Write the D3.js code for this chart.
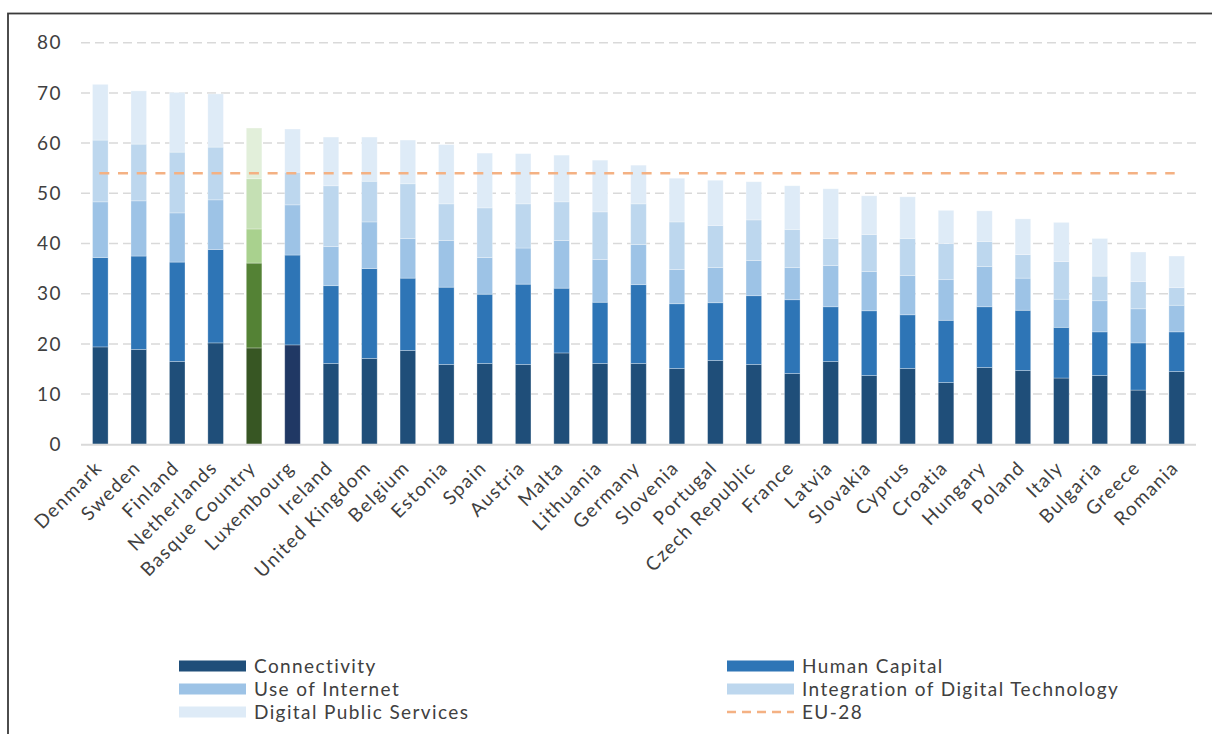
<!DOCTYPE html>
<html><head><meta charset="utf-8">
<script src="https://cdn.jsdelivr.net/npm/d3@7"></script>
<style>
body{margin:0;background:#fff;}
svg{display:block;font-family:Lato,"Open Sans",sans-serif;}
</style></head>
<body><svg id="chart" width="1212" height="734"></svg>
<script>
const countries = ["Denmark","Sweden","Finland","Netherlands","Basque Country","Luxembourg","Ireland","United Kingdom","Belgium","Estonia","Spain","Austria","Malta","Lithuania","Germany","Slovenia","Portugal","Czech Republic","France","Latvia","Slovakia","Cyprus","Croatia","Hungary","Poland","Italy","Bulgaria","Greece","Romania"];
const connectivity = [19.4,18.9,16.5,20.2,19.2,19.8,16.1,17.1,18.7,15.9,16.1,15.9,18.2,16.1,16.1,15.1,16.7,15.9,14.1,16.5,13.7,15.1,12.3,15.3,14.7,13.2,13.7,10.8,14.5];
const humanCapital = [17.8,18.6,19.8,18.6,16.9,17.9,15.5,17.9,14.4,15.4,13.8,16.0,12.9,12.2,15.7,12.9,11.5,13.7,14.7,10.9,12.9,10.7,12.4,12.1,12.0,10.1,8.7,9.4,7.9];
const useOfInternet = [11.1,11.0,9.8,9.9,6.8,10.0,7.8,9.3,7.9,9.3,7.3,7.2,9.5,8.5,8.0,6.8,7.0,7.0,6.4,8.2,7.8,7.8,8.1,8.0,6.4,5.6,6.2,6.8,5.3];
const integrationDigital = [12.3,11.3,12.1,10.5,10.0,6.5,12.1,8.1,10.9,7.3,9.9,8.8,7.7,9.5,8.1,9.5,8.4,8.1,7.6,5.4,7.4,7.4,7.2,5.0,4.7,7.5,4.9,5.4,3.5];
const digitalPublic = [11.1,10.6,11.9,10.6,10.1,8.6,9.7,8.8,8.7,11.8,10.9,10.0,9.3,10.3,7.7,8.7,9.0,7.6,8.7,9.9,7.7,8.3,6.6,6.1,7.1,7.8,7.5,5.9,6.3];
const eu28 = 54;
const seriesNames = ["Connectivity","Human Capital","Use of Internet","Integration of Digital Technology","Digital Public Services"];
const yTicks = [0,10,20,30,40,50,60,70,80];

const blueColors = ["#1f4e79","#2e75b6","#9dc3e6","#bdd7ee","#deebf7"];
const greenColors = ["#375623","#548235","#a9d18e","#c5e0b4","#e2efda"];
const luxConnectivity = "#203864";
const euColor = "#f4b183";
const textColor = "#404040";

const svg = d3.select("#chart");
// frame
svg.append("rect").attr("x",8).attr("y",13.5).attr("width",1215).attr("height",740)
  .attr("fill","none").attr("stroke","#3a3a3a").attr("stroke-width",1.8);

const x = d3.scaleBand().domain(countries).range([81,1196]).paddingInner(0.595).paddingOuter(0.3);
const y = d3.scaleLinear().domain([0,80]).range([444.3,42.7]);

// gridlines
svg.append("g").selectAll("line").data(yTicks.filter(d=>d>0)).join("line")
  .attr("x1",81).attr("x2",1196).attr("y1",d=>y(d)).attr("y2",d=>y(d))
  .attr("stroke","#d9d9d9").attr("stroke-width",1.5).attr("stroke-dasharray","9,5");

// y labels
svg.append("g").selectAll("text").data(yTicks).join("text")
  .attr("x",62).attr("y",d=>y(d)).attr("dy","0.35em").attr("text-anchor","end")
  .attr("fill",textColor).attr("font-size",19).attr("letter-spacing",1.5).text(d=>d);

const table = countries.map((c,i)=>({country:c, values:[connectivity[i],humanCapital[i],useOfInternet[i],integrationDigital[i],digitalPublic[i]]}));
const stack = d3.stack().keys([0,1,2,3,4]).value((d,k)=>d.values[k]);
const layers = stack(table);

svg.append("g").selectAll("g").data(layers).join("g")
  .each(function(layer){
    const k = layer.key;
    d3.select(this).selectAll("rect").data(layer).join("rect")
      .attr("x",d=>x(d.data.country))
      .attr("width",x.bandwidth())
      .attr("y",d=>y(d[1]))
      .attr("height",d=>y(d[0])-y(d[1]))
      .attr("fill",d=>{
        if(d.data.country==="Basque Country") return greenColors[k];
        if(d.data.country==="Luxembourg" && k===0) return luxConnectivity;
        return blueColors[k];
      })
      .attr("stroke","#ffffff").attr("stroke-opacity",0.35).attr("stroke-width",0.8);
  });

// baseline
svg.append("line").attr("x1",81).attr("x2",1196).attr("y1",y(0)+0.5).attr("y2",y(0)+0.5)
  .attr("stroke","#d9d9d9").attr("stroke-width",2);

// EU-28 line
svg.append("line")
  .attr("x1",x(countries[0])+x.bandwidth()/2-1).attr("x2",x(countries[countries.length-1])+x.bandwidth()/2-2)
  .attr("y1",y(eu28)).attr("y2",y(eu28))
  .attr("stroke",euColor).attr("stroke-width",2.6).attr("stroke-dasharray","10,8.7");

// x labels
svg.append("g").selectAll("text").data(countries).join("text")
  .attr("transform",d=>`translate(${x(d)+x.bandwidth()/2+3},${469}) rotate(-45)`)
  .attr("text-anchor","end")
  .attr("fill",textColor).attr("font-size",19).attr("letter-spacing",1.4).text(d=>d);

// legend
const legendItems = [
  {name:seriesNames[0], color:blueColors[0], col:0, row:0},
  {name:seriesNames[1], color:blueColors[1], col:1, row:0},
  {name:seriesNames[2], color:blueColors[2], col:0, row:1},
  {name:seriesNames[3], color:blueColors[3], col:1, row:1},
  {name:seriesNames[4], color:blueColors[4], col:0, row:2},
  {name:"EU-28", color:euColor, col:1, row:2, dashed:true}
];
const colX = [179,727];
const rowY = [666,689,712];
const lg = svg.append("g");
legendItems.forEach(it=>{
  const gx = colX[it.col], gy = rowY[it.row];
  if(it.dashed){
    lg.append("line").attr("x1",gx).attr("x2",gx+67).attr("y1",gy).attr("y2",gy)
      .attr("stroke",it.color).attr("stroke-width",2.6).attr("stroke-dasharray","9,6");
  } else {
    lg.append("rect").attr("x",gx).attr("y",gy-5.5).attr("width",67).attr("height",11).attr("fill",it.color);
  }
  lg.append("text").attr("x",gx+75).attr("y",gy).attr("dy","0.35em")
    .attr("fill",textColor).attr("font-size",19).attr("letter-spacing",1.4).text(it.name);
});
</script>
</body></html>
